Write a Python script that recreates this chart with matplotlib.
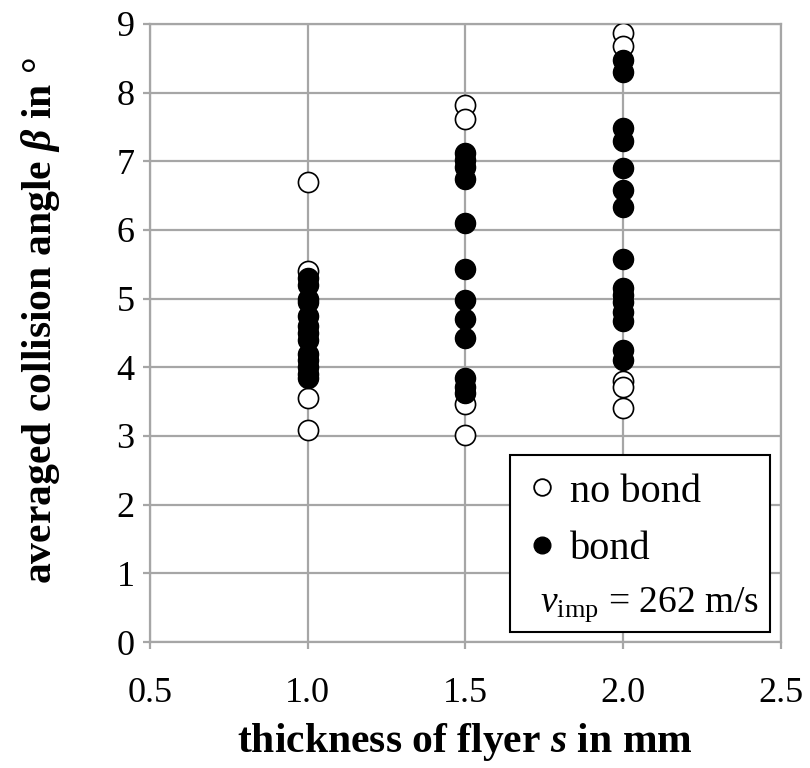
import matplotlib
matplotlib.use("Agg")
import matplotlib.pyplot as plt
from matplotlib.patches import Rectangle
from matplotlib.lines import Line2D

# ========== DATA ==========
no_bond_x = [1.0, 1.0, 1.0, 1.0,
             1.5, 1.5, 1.5, 1.5,
             2.0, 2.0, 2.0, 2.0, 2.0]
no_bond_y = [6.7, 5.4, 3.55, 3.08,
             7.82, 7.62, 3.47, 3.02,
             8.86, 8.67, 3.8, 3.72, 3.4]

bond_x = [1.0] * 13 + [1.5] * 12 + [2.0] * 15
bond_y = [5.3, 5.2, 5.0, 4.95, 4.75, 4.6, 4.5, 4.4, 4.2, 4.1, 4.0, 3.9, 3.85,
          7.12, 7.02, 6.92, 6.74, 6.1, 5.43, 4.98, 4.7, 4.42, 3.84, 3.72, 3.62,
          8.47, 8.3, 7.48, 7.3, 6.9, 6.58, 6.33, 5.57, 5.15, 5.05, 4.95, 4.8,
          4.68, 4.25, 4.1]

x_ticks = [0.5, 1.0, 1.5, 2.0, 2.5]
y_ticks = list(range(0, 10))

GRID = "#a6a6a6"

# ========== STYLE ==========
plt.rcParams["font.family"] = ["Liberation Serif", "DejaVu Serif"]
plt.rcParams["mathtext.fontset"] = "custom"
plt.rcParams["mathtext.rm"] = "Liberation Serif"
plt.rcParams["mathtext.it"] = "Liberation Serif:italic:bold"
plt.rcParams["mathtext.bf"] = "Liberation Serif:bold"
plt.rcParams["mathtext.sf"] = "Liberation Serif:italic"

fig = plt.figure(figsize=(8.1, 7.68), dpi=100)
ax = fig.add_axes([0.185, 0.164, 0.779, 0.805])

ax.scatter(no_bond_x, no_bond_y, s=210, facecolors="white", edgecolors="black",
           linewidths=1.2, zorder=3)
ax.scatter(bond_x, bond_y, s=210, facecolors="black", edgecolors="black",
           linewidths=1.0, zorder=4)

ax.set_xlim(0.5, 2.5)
ax.set_ylim(0, 9)
ax.set_xticks(x_ticks)
ax.set_xticklabels([f"{t:.1f}" for t in x_ticks])
ax.set_yticks(y_ticks)
ax.grid(True, color=GRID, linewidth=1.6)
ax.set_axisbelow(True)
for sp in ax.spines.values():
    sp.set_color(GRID)
    sp.set_linewidth(1.6)
ax.tick_params(length=5, width=1.6, color=GRID, direction="out", labelsize=26)
ax.tick_params(axis="x", pad=20)
ax.tick_params(axis="y", pad=6)

ax.set_xlabel(r"thickness of flyer $s$ in mm", fontsize=30, fontweight="bold")
ax.set_ylabel(r"averaged collision angle $\beta$ in °", fontsize=30, fontweight="bold")
ax.xaxis.set_label_coords(0.5, -0.128)
ax.yaxis.set_label_coords(-0.14, 0.52)

# ========== LEGEND BOX ==========
box = Rectangle((0.571, 0.016), 0.412, 0.287, transform=ax.transAxes,
                facecolor="white", edgecolor="black", linewidth=1.5, zorder=5)
ax.add_patch(box)
handles = [Line2D([], [], marker="o", linestyle="none", markersize=12,
                  markerfacecolor="white", markeredgecolor="black", markeredgewidth=1.3),
           Line2D([], [], marker="o", linestyle="none", markersize=12,
                  markerfacecolor="black", markeredgecolor="black")]
leg = ax.legend(handles, ["no bond", "bond"], loc="upper left",
                bbox_to_anchor=(0.542, 0.325), frameon=False, fontsize=29,
                handletextpad=0.25, handlelength=0.9, labelspacing=0.5,
                borderpad=0.3)
leg.set_zorder(6)
ax.text(0.618, 0.06, r"$\mathsf{v}_{\mathrm{imp}}$ = 262 m/s", transform=ax.transAxes,
        fontsize=27, va="center", ha="left", zorder=7)

fig.savefig("out.png", dpi=100)
